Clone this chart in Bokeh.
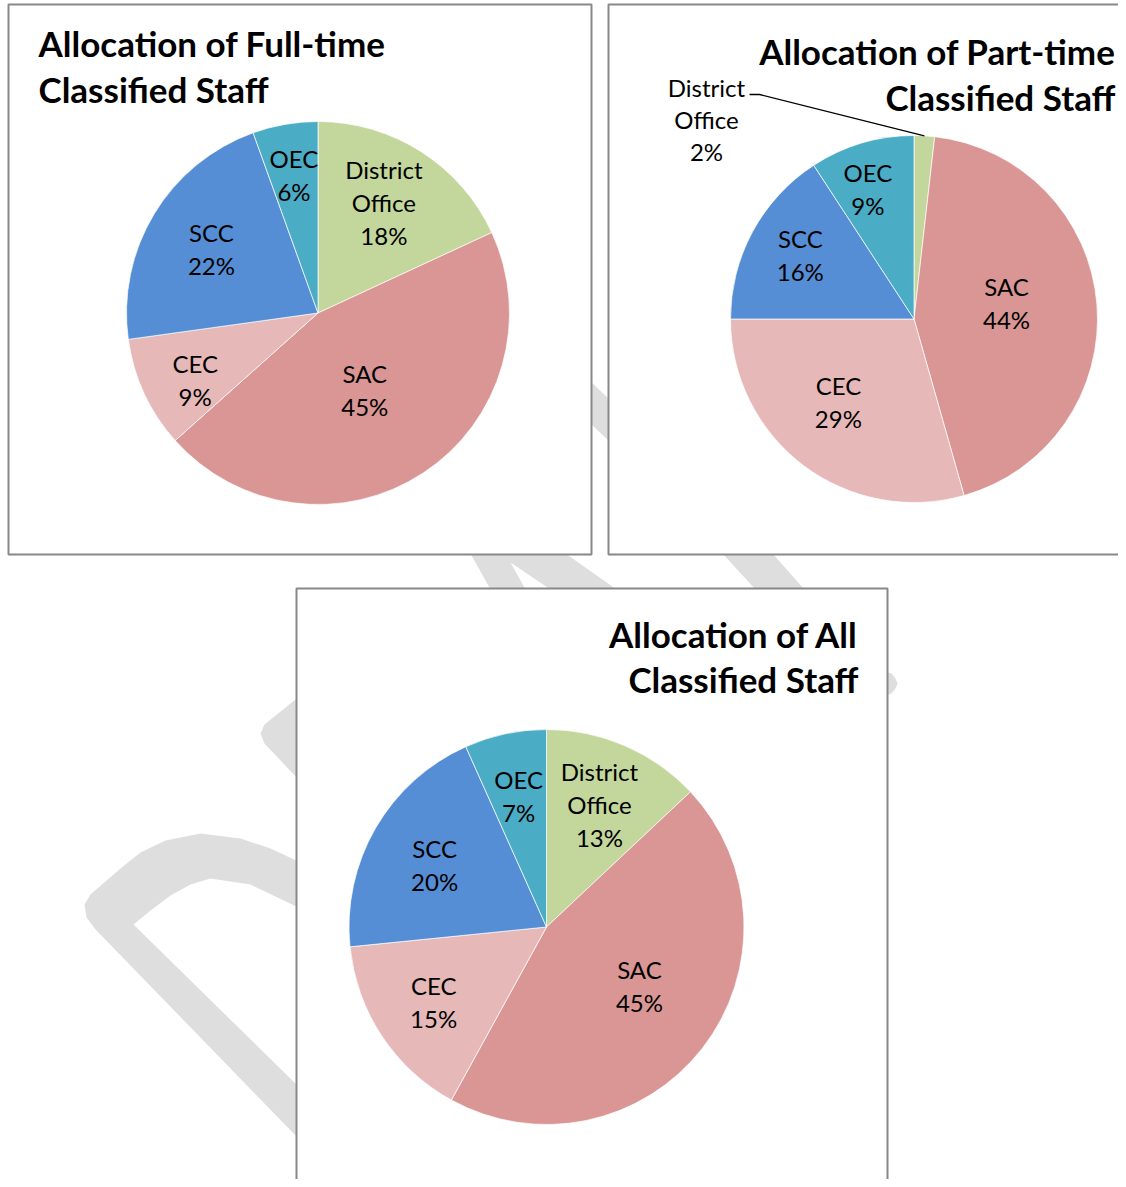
import math
from bokeh.plotting import figure
from bokeh.models import Range1d
from bokeh.core.properties import value
from bokeh.embed import file_html
from bokeh.resources import INLINE

# ---------------- data ----------------
categories = ["District Office", "SAC", "CEC", "SCC", "OEC"]
fulltime_pct = [18.1, 45.3, 9.4, 21.7, 5.5]
parttime_pct = [1.8, 43.8, 29.4, 15.8, 9.2]
all_pct = [13.0, 45.0, 15.4, 19.9, 6.7]
slice_colors = ["#C3D69B", "#D99694", "#E6B9B8", "#558ED5", "#4BACC6"]

title_full = ["Allocation of Full-time", "Classified Staff"]
title_part = ["Allocation of Part-time", "Classified Staff"]
title_all = ["Allocation of All", "Classified Staff"]

# ---------------- layout (screen pixels, y downward) ----------------
FONT = "Lato"
LABEL_SIZE = "24px"
TITLE_SIZE = "35px"
LINE_GAP = 33
W, H = 1118, 1179

p = figure(width=W, height=H, x_range=Range1d(0, W), y_range=Range1d(-H, 0),
           output_backend="svg", toolbar_location=None, min_border=0,
           x_axis_location=None, y_axis_location=None)
p.grid.visible = False
p.outline_line_color = None
p.background_fill_color = "white"
p.border_fill_color = "white"


def Y(v):
    return -v


# watermark ("DRAFT" fragments, behind the chart boxes)
wm = [
    [(300, 862), (270, 848), (240, 838), (200, 833), (165, 840), (140, 852), (120, 868), (90, 894),
     (84, 904), (86, 917), (95, 929), (300, 1140), (300, 1088), (133, 924), (150, 910), (170, 895),
     (190, 884), (210, 878), (250, 884), (300, 908)],
    [(300, 695), (264, 724), (260, 733), (264, 743), (300, 781)],
    [(470, 553), (565, 553), (616, 589), (550, 589), (510, 562), (525, 589), (490, 589)],
    [(722, 553), (772, 553), (804, 589), (755, 589)],
    [(590, 381), (609, 399), (609, 441), (590, 423)],
    [(885, 671), (891, 673), (895, 678), (897, 683), (895, 688), (891, 693), (885, 695)],
]
p.patches(xs=[[q[0] for q in poly] for poly in wm], ys=[[Y(q[1]) for q in poly] for poly in wm],
          fill_color="#DEDEDE", line_color=None)

# chart boxes
p.quad(left=[8, 608, 296], right=[591, 1140, 887], top=[Y(4), Y(4), Y(588)],
       bottom=[Y(554), Y(554), Y(1200)], fill_color="white", line_color="#888888", line_width=2)


def draw_pie(cx, cy, r, vals, fracs, nudges, external=None):
    total = float(sum(vals))
    cum = 0.0
    for i, v in enumerate(vals):
        a0 = cum / total * 2 * math.pi
        cum += v
        a1 = cum / total * 2 * math.pi
        # clockwise from 12 o'clock -> bokeh anticlockwise from +x
        p.wedge(x=[cx], y=[Y(cy)], radius=r, radius_units="screen",
                start_angle=math.pi / 2 - a1, end_angle=math.pi / 2 - a0, direction="anticlock",
                fill_color=slice_colors[i], line_color="white", line_width=0.7)
        mid = (a0 + a1) / 2
        lines = categories[i].split(" ") + [f"{int(v + 0.5)}%"]
        if external is not None and i == external["index"]:
            lx, ly = external["pos"]
            rx = cx + r * math.sin(mid)
            ry = cy - r * math.cos(mid)
            p.line(x=[external["elbow"][0], external["elbow"][1], rx],
                   y=[Y(external["elbow"][2]), Y(external["elbow"][2]), Y(ry)],
                   line_color="black", line_width=1.3)
            gap = 32
        else:
            d = fracs[i] * r
            ang = mid + math.radians(nudges[i])
            lx = cx + d * math.sin(ang)
            ly = cy - d * math.cos(ang)
            gap = LINE_GAP
        n = len(lines)
        ys = [ly + (k - (n - 1) / 2) * gap for k in range(n)]
        p.text(x=[lx] * n, y=[Y(t) for t in ys], text=lines, text_font=value(FONT),
               text_font_size=LABEL_SIZE, text_align="center", text_baseline="middle",
               text_color="black")


def draw_title(lines, x, ys, align):
    p.text(x=[x] * len(lines), y=[Y(t) for t in ys], text=lines, text_font=value(FONT),
           text_font_size=TITLE_SIZE, text_font_style="bold", text_align=align,
           text_baseline="middle", text_color="black")


# Full-time
draw_pie(317.5, 312.5, 191.5, fulltime_pct, [0.67, 0.47, 0.73, 0.65, 0.73],
         [-1.7, 2.0, -3.7, 0.0, 0.0])
draw_title(title_full, 38, [42, 88], "left")

# Part-time
draw_pie(913.5, 318.5, 183.5, parttime_pct, [0.0, 0.512, 0.61, 0.71, 0.75],
         [0.0, -5.4, 5.4, 0.8, -3.0],
         external={"index": 0, "pos": (706, 119), "elbow": (749, 759, 94)})
draw_title(title_part, 1115, [50, 96], "right")

# All
draw_pie(546, 926.5, 197.5, all_pct, [0.675, 0.556, 0.685, 0.647, 0.676],
         [0.0, -5.6, 0.0, -1.2, 0.0])
draw_title(title_all, 858, [633, 678], "right")

open("out.html", "w").write(file_html(p, INLINE))
